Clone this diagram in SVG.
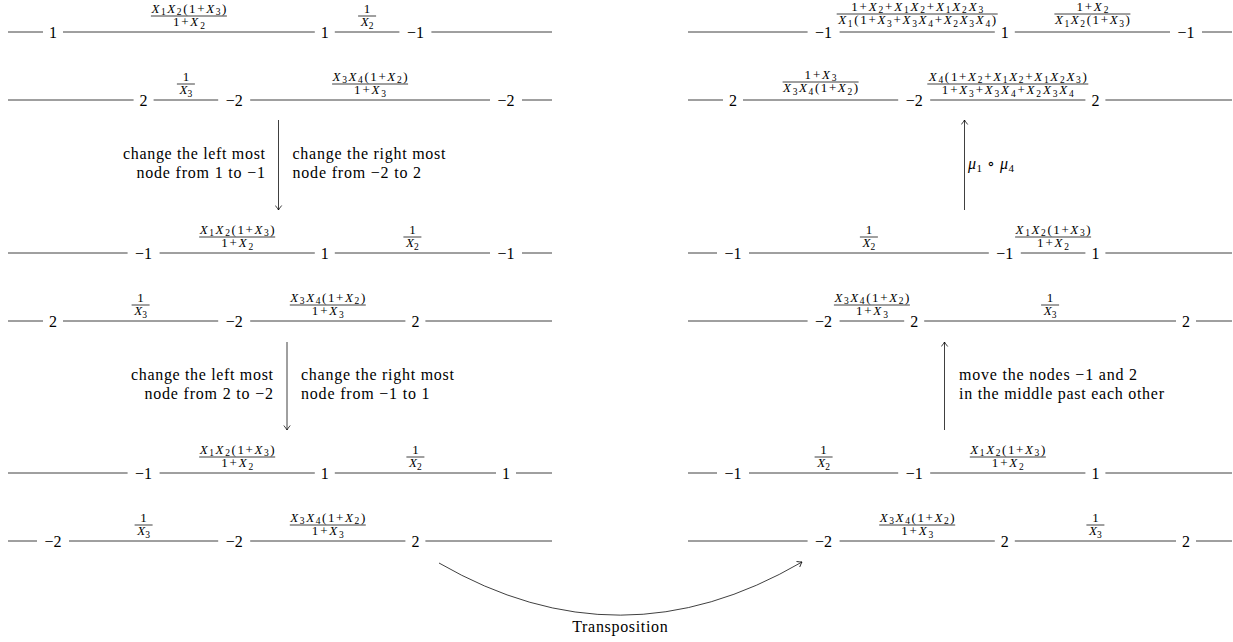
<svg xmlns="http://www.w3.org/2000/svg" width="1233" height="642" viewBox="0 0 1233 642" font-family="'Liberation Serif', 'DejaVu Serif', serif">
<style>
.ln{stroke:#000;stroke-width:0.75;fill:none}
text{font-family:"Liberation Serif","DejaVu Serif","Noto Serif",serif;fill:#000}
.n{font-size:16px;text-anchor:middle}
.t{font-size:16px}
.f{font-size:13px;text-anchor:middle}
.v{font-style:italic}
.s{font-size:9.5px}
.ms{font-size:11px}
</style>
<defs>
<marker id="ah" viewBox="-5 -4 6 8" refX="0" refY="0" markerWidth="6" markerHeight="8" orient="auto" markerUnits="userSpaceOnUse"><path d="M-4.5,-3.2 Q-1.5,-0.8 0,0 Q-1.5,0.8 -4.5,3.2" fill="none" stroke="#000" stroke-width="0.75"/></marker>
<g id="fA"><text class="f" y="-3.5" textLength="75"><tspan class="v">X</tspan><tspan class="s" dy="2.5">1</tspan><tspan class="v" dy="-2.5">X</tspan><tspan class="s" dy="2.5">2</tspan><tspan dy="-2.5">(1+</tspan><tspan class="v">X</tspan><tspan class="s" dy="2.5">3</tspan><tspan dy="-2.5">)</tspan></text><line class="ln" x1="-38" x2="38" y1="0" y2="0"/><text class="f" y="10" textLength="32">1+<tspan class="v">X</tspan><tspan class="s" dy="2.5">2</tspan></text></g>
<g id="fB"><text class="f" y="-3">1</text><line class="ln" x1="-9" x2="9" y1="0" y2="0"/><text class="f" y="10"><tspan class="v">X</tspan><tspan class="s" dy="2.5">2</tspan></text></g>
<g id="fC"><text class="f" y="-3">1</text><line class="ln" x1="-9" x2="9" y1="0" y2="0"/><text class="f" y="10"><tspan class="v">X</tspan><tspan class="s" dy="2.5">3</tspan></text></g>
<g id="fD"><text class="f" y="-3.5" textLength="75"><tspan class="v">X</tspan><tspan class="s" dy="2.5">3</tspan><tspan class="v" dy="-2.5">X</tspan><tspan class="s" dy="2.5">4</tspan><tspan dy="-2.5">(1+</tspan><tspan class="v">X</tspan><tspan class="s" dy="2.5">2</tspan><tspan dy="-2.5">)</tspan></text><line class="ln" x1="-38" x2="38" y1="0" y2="0"/><text class="f" y="10" textLength="32">1+<tspan class="v">X</tspan><tspan class="s" dy="2.5">3</tspan></text></g>
<g id="fE"><text class="f" y="-3.5" textLength="132">1+<tspan class="v">X</tspan><tspan class="s" dy="2.5">2</tspan><tspan dy="-2.5">+</tspan><tspan class="v">X</tspan><tspan class="s" dy="2.5">1</tspan><tspan class="v" dy="-2.5">X</tspan><tspan class="s" dy="2.5">2</tspan><tspan dy="-2.5">+</tspan><tspan class="v">X</tspan><tspan class="s" dy="2.5">1</tspan><tspan class="v" dy="-2.5">X</tspan><tspan class="s" dy="2.5">2</tspan><tspan class="v" dy="-2.5">X</tspan><tspan class="s" dy="2.5">3</tspan></text><line class="ln" x1="-80.5" x2="80.5" y1="0" y2="0"/><text class="f" y="10" textLength="158"><tspan class="v">X</tspan><tspan class="s" dy="2.5">1</tspan><tspan dy="-2.5">(1+</tspan><tspan class="v">X</tspan><tspan class="s" dy="2.5">3</tspan><tspan dy="-2.5">+</tspan><tspan class="v">X</tspan><tspan class="s" dy="2.5">3</tspan><tspan class="v" dy="-2.5">X</tspan><tspan class="s" dy="2.5">4</tspan><tspan dy="-2.5">+</tspan><tspan class="v">X</tspan><tspan class="s" dy="2.5">2</tspan><tspan class="v" dy="-2.5">X</tspan><tspan class="s" dy="2.5">3</tspan><tspan class="v" dy="-2.5">X</tspan><tspan class="s" dy="2.5">4</tspan><tspan dy="-2.5">)</tspan></text></g>
<g id="fF"><text class="f" y="-3.5" textLength="32">1+<tspan class="v">X</tspan><tspan class="s" dy="2.5">2</tspan></text><line class="ln" x1="-38" x2="38" y1="0" y2="0"/><text class="f" y="10" textLength="75"><tspan class="v">X</tspan><tspan class="s" dy="2.5">1</tspan><tspan class="v" dy="-2.5">X</tspan><tspan class="s" dy="2.5">2</tspan><tspan dy="-2.5">(1+</tspan><tspan class="v">X</tspan><tspan class="s" dy="2.5">3</tspan><tspan dy="-2.5">)</tspan></text></g>
<g id="fG"><text class="f" y="-3.5" textLength="32">1+<tspan class="v">X</tspan><tspan class="s" dy="2.5">3</tspan></text><line class="ln" x1="-38" x2="38" y1="0" y2="0"/><text class="f" y="10" textLength="75"><tspan class="v">X</tspan><tspan class="s" dy="2.5">3</tspan><tspan class="v" dy="-2.5">X</tspan><tspan class="s" dy="2.5">4</tspan><tspan dy="-2.5">(1+</tspan><tspan class="v">X</tspan><tspan class="s" dy="2.5">2</tspan><tspan dy="-2.5">)</tspan></text></g>
<g id="fH"><text class="f" y="-3.5" textLength="158"><tspan class="v">X</tspan><tspan class="s" dy="2.5">4</tspan><tspan dy="-2.5">(1+</tspan><tspan class="v">X</tspan><tspan class="s" dy="2.5">2</tspan><tspan dy="-2.5">+</tspan><tspan class="v">X</tspan><tspan class="s" dy="2.5">1</tspan><tspan class="v" dy="-2.5">X</tspan><tspan class="s" dy="2.5">2</tspan><tspan dy="-2.5">+</tspan><tspan class="v">X</tspan><tspan class="s" dy="2.5">1</tspan><tspan class="v" dy="-2.5">X</tspan><tspan class="s" dy="2.5">2</tspan><tspan class="v" dy="-2.5">X</tspan><tspan class="s" dy="2.5">3</tspan><tspan dy="-2.5">)</tspan></text><line class="ln" x1="-80.5" x2="80.5" y1="0" y2="0"/><text class="f" y="10" textLength="132">1+<tspan class="v">X</tspan><tspan class="s" dy="2.5">3</tspan><tspan dy="-2.5">+</tspan><tspan class="v">X</tspan><tspan class="s" dy="2.5">3</tspan><tspan class="v" dy="-2.5">X</tspan><tspan class="s" dy="2.5">4</tspan><tspan dy="-2.5">+</tspan><tspan class="v">X</tspan><tspan class="s" dy="2.5">2</tspan><tspan class="v" dy="-2.5">X</tspan><tspan class="s" dy="2.5">3</tspan><tspan class="v" dy="-2.5">X</tspan><tspan class="s" dy="2.5">4</tspan></text></g>
</defs>
<rect width="1233" height="642" fill="#fff"/>

<g id="L1">
<path class="ln" d="M8 32H43M63 32H314.8M334.8 32H399.4M431.4 32H552"/>
<text class="n" x="53" y="37.5">1</text><text class="n" x="324.8" y="37.5">1</text><text class="n" x="415.4" y="37.5">−1</text>
<use href="#fA" x="188.9" y="16"/><use href="#fB" x="367.1" y="16"/>
</g>
<g id="L2">
<path class="ln" d="M8 100H133.6M153.6 100H218.2M250.2 100H490M522 100H552"/>
<text class="n" x="143.6" y="105.5">2</text><text class="n" x="234.2" y="105.5">−2</text><text class="n" x="506" y="105.5">−2</text>
<use href="#fC" x="185.9" y="84"/><use href="#fD" x="370.1" y="84"/>
</g>
<g id="L3">
<path class="ln" d="M8 253H127.6M159.6 253H314.8M334.8 253H490M522 253H552"/>
<text class="n" x="143.6" y="258.5">−1</text><text class="n" x="324.8" y="258.5">1</text><text class="n" x="506" y="258.5">−1</text>
<use href="#fA" x="237.2" y="237"/><use href="#fB" x="412.4" y="237"/>
</g>
<g id="L4">
<path class="ln" d="M8 321H43M63 321H218.2M250.2 321H405.4M425.4 321H552"/>
<text class="n" x="53" y="326.5">2</text><text class="n" x="234.2" y="326.5">−2</text><text class="n" x="415.4" y="326.5">2</text>
<use href="#fC" x="140.6" y="305"/><use href="#fD" x="327.8" y="305"/>
</g>
<g id="L5">
<path class="ln" d="M8 473H127.6M159.6 473H314.8M334.8 473H496M516 473H552"/>
<text class="n" x="143.6" y="478.5">−1</text><text class="n" x="324.8" y="478.5">1</text><text class="n" x="506" y="478.5">1</text>
<use href="#fA" x="237.2" y="457"/><use href="#fB" x="415.4" y="457"/>
</g>
<g id="L6">
<path class="ln" d="M8 541H37M69 541H218.2M250.2 541H405.4M425.4 541H552"/>
<text class="n" x="53" y="546.5">−2</text><text class="n" x="234.2" y="546.5">−2</text><text class="n" x="415.4" y="546.5">2</text>
<use href="#fC" x="143.6" y="525"/><use href="#fD" x="327.8" y="525"/>
</g>

<g id="R1">
<path class="ln" d="M688 32H807.6M839.6 32H994.8M1014.8 32H1170M1202 32H1232"/>
<text class="n" x="823.6" y="37.5">−1</text><text class="n" x="1004.8" y="37.5">1</text><text class="n" x="1186" y="37.5">−1</text>
<use href="#fE" x="917.2" y="14"/><use href="#fF" x="1092.4" y="14"/>
</g>
<g id="R2">
<path class="ln" d="M688 100H723M743 100H898.2M930.2 100H1085.4M1105.4 100H1232"/>
<text class="n" x="733" y="105.5">2</text><text class="n" x="914.2" y="105.5">−2</text><text class="n" x="1095.4" y="105.5">2</text>
<use href="#fG" x="820.6" y="82"/><use href="#fH" x="1007.8" y="84"/>
</g>
<g id="R3">
<path class="ln" d="M688 253H717M749 253H988.8M1020.8 253H1085.4M1105.4 253H1232"/>
<text class="n" x="733" y="258.5">−1</text><text class="n" x="1004.8" y="258.5">−1</text><text class="n" x="1095.4" y="258.5">1</text>
<use href="#fB" x="868.9" y="237"/><use href="#fA" x="1053.1" y="237"/>
</g>
<g id="R4">
<path class="ln" d="M688 321H807.6M839.6 321H904.2M924.2 321H1176M1196 321H1232"/>
<text class="n" x="823.6" y="326.5">−2</text><text class="n" x="914.2" y="326.5">2</text><text class="n" x="1186" y="326.5">2</text>
<use href="#fD" x="871.9" y="305"/><use href="#fC" x="1050.1" y="305"/>
</g>
<g id="R5">
<path class="ln" d="M688 473H717M749 473H898.2M930.2 473H1085.4M1105.4 473H1232"/>
<text class="n" x="733" y="478.5">−1</text><text class="n" x="914.2" y="478.5">−1</text><text class="n" x="1095.4" y="478.5">1</text>
<use href="#fB" x="823.6" y="457"/><use href="#fA" x="1007.8" y="457"/>
</g>
<g id="R6">
<path class="ln" d="M688 541H807.6M839.6 541H994.8M1014.8 541H1176M1196 541H1232"/>
<text class="n" x="823.6" y="546.5">−2</text><text class="n" x="1004.8" y="546.5">2</text><text class="n" x="1186" y="546.5">2</text>
<use href="#fD" x="917.2" y="525"/><use href="#fC" x="1095.4" y="525"/>
</g>

<g id="connectors">
<path class="ln" d="M278.5 120V210" marker-end="url(#ah)"/>
<text class="t" x="123" y="158.5" textLength="142">change the left most</text>
<text class="t" x="136.4" y="177.5" textLength="128.6">node from 1 to −1</text>
<text class="t" x="292.5" y="158.5" textLength="153">change the right most</text>
<text class="t" x="292.5" y="177.5" textLength="128.6">node from −2 to 2</text>

<path class="ln" d="M287 342V430" marker-end="url(#ah)"/>
<text class="t" x="131" y="380" textLength="142">change the left most</text>
<text class="t" x="144.4" y="399" textLength="128.6">node from 2 to −2</text>
<text class="t" x="301" y="380" textLength="153">change the right most</text>
<text class="t" x="301" y="399" textLength="128.6">node from −1 to 1</text>

<path class="ln" d="M964.5 210V120" marker-end="url(#ah)"/>
<text class="t" x="968" y="169" textLength="46"><tspan class="v">μ</tspan><tspan class="ms" dy="3">1</tspan><tspan dy="-3"> ∘ </tspan><tspan class="v">μ</tspan><tspan class="ms" dy="3">4</tspan></text>

<path class="ln" d="M944.5 430V342" marker-end="url(#ah)"/>
<text class="t" x="959" y="380" textLength="178">move the nodes −1 and 2</text>
<text class="t" x="959" y="399" textLength="205">in the middle past each other</text>

<path class="ln" d="M439 563Q620.5 667.8 802 562" marker-end="url(#ah)"/>
<text class="t" x="572.2" y="631.5" textLength="95.6">Transposition</text>
</g>
</svg>
